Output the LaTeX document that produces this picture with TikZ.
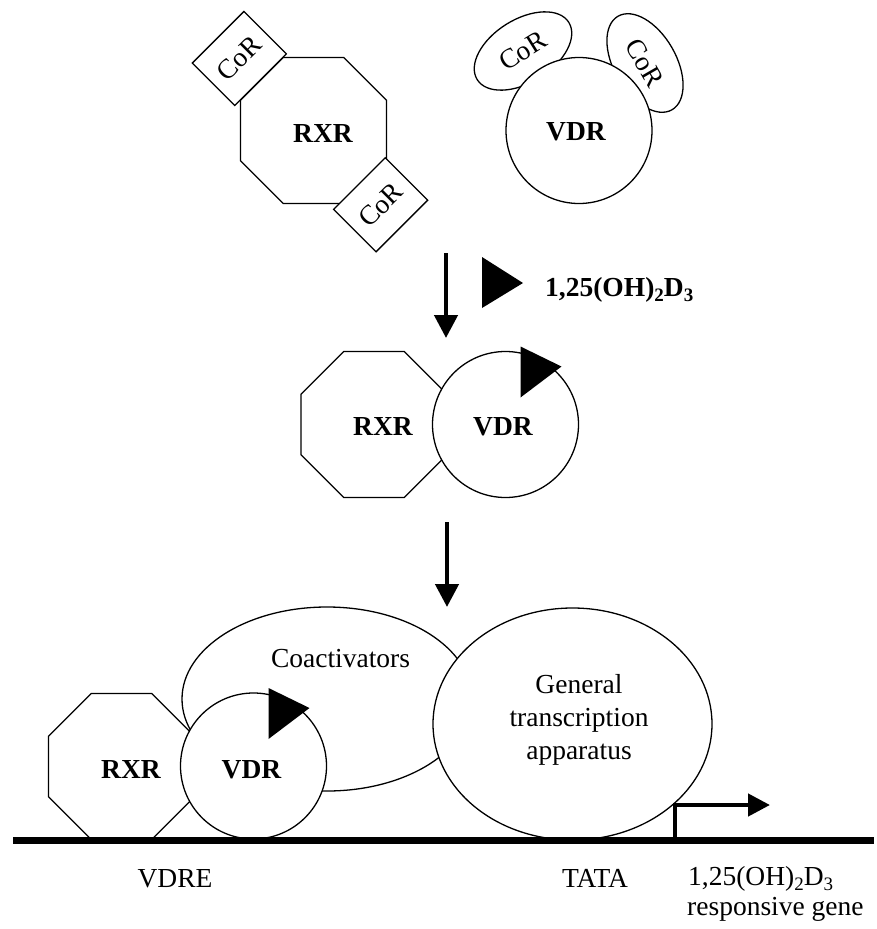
\documentclass[tikz,border=0pt]{standalone}
\usepackage{fontspec}
\setmainfont{Liberation Serif}
\usetikzlibrary{shapes.geometric,arrows.meta,calc}
\newcommand\mysub[1]{\raisebox{-5pt}{\fontsize{19}{19}\selectfont #1}}
\begin{document}
\begin{tikzpicture}[x=1pt,y=-1pt,
  every node/.style={font=\fontsize{27.5}{33}\selectfont, inner sep=0pt},
  outl/.style={draw=black, line width=1.3pt, fill=white},
  octo/.style={outl, regular polygon, regular polygon sides=8, minimum size=158pt},
  vdrc/.style={outl, circle, minimum size=146pt},
  corbox/.style={outl, rectangle, rotate=45, minimum width=73pt, minimum height=60pt},
  corell/.style={outl, ellipse, minimum width=108pt, minimum height=63pt},
  lbl/.style={font=\fontsize{27.5}{33}\selectfont\bfseries, anchor=base},
  txt/.style={anchor=base},
  bigarrow/.style={line width=4.5pt, -{Triangle[length=23pt,width=23pt]}},
  promo/.style={line width=4.5pt, -{Triangle[length=22pt,width=22pt]}},
  dna/.style={line width=7pt},
  ligand/.style={fill=black},
]
\useasboundingbox (0,0) rectangle (876,929);

% ---------- top: RXR with corepressors ----------
\node[octo] (rxr1) at (313.5,130.5) {};
\node[corbox] (cor1) at (239.3,58.5) {CoR};
\node[corbox] (cor2) at (380.6,204.8) {CoR};
\node[lbl] (rxr1t) at (323,142) {RXR};

% ---------- top: VDR with corepressors ----------
\node[corell, rotate=32] (cor3) at (523,51) {CoR};
\node[corell, rotate=-60, minimum height=62pt] (cor4) at (645,63) {CoR};
\node[vdrc] (vdr1) at (579,130.5) {};
\node[lbl] (vdr1t) at (576,140) {VDR};

% ---------- first arrow and ligand ----------
\coordinate (a1s) at (446,253);
\coordinate (a1e) at (446,338);
\draw[bigarrow] (a1s) -- (a1e);
\fill[ligand] (482,257) -- (482,308) -- (523,283) -- cycle;
\node[lbl, anchor=base west] (lig) at (545,296) {1,25(OH)\mysub{2}D\mysub{3}};

% ---------- middle: heterodimer ----------
\node[octo] (rxr2) at (374,424.5) {};
\node[vdrc] (vdr2) at (505.5,424.5) {};
\fill[ligand] ($(vdr2.center)+(15,-78)$) -- ($(vdr2.center)+(15,-27)$) -- ($(vdr2.center)+(56,-58)$) -- cycle;
\node[lbl] (rxr2t) at (383,435) {RXR};
\node[lbl] (vdr2t) at (503,435) {VDR};

% ---------- second arrow ----------
\coordinate (a2s) at (447,522);
\coordinate (a2e) at (447,607);
\draw[bigarrow] (a2s) -- (a2e);

% ---------- bottom: complex on DNA ----------
\node[outl, ellipse, minimum width=290pt, minimum height=184pt] (coact) at (327,699) {};
\node[txt] (coactt) at (340.5,667) {Coactivators};
\node[octo] (rxr3) at (121.5,766.5) {};
\node[vdrc] (vdr3) at (253.5,766) {};
\fill[ligand] ($(vdr3.center)+(15,-78)$) -- ($(vdr3.center)+(15,-27)$) -- ($(vdr3.center)+(56,-58)$) -- cycle;
\node[lbl] (rxr3t) at (131,778) {RXR};
\node[lbl] (vdr3t) at (251.5,778) {VDR};
\node[outl, ellipse, minimum width=279pt, minimum height=232pt] (gta) at (572.5,724) {};
\node[align=center] (gtat) at (579,719.6) {General\\transcription\\apparatus};

% DNA and transcription start
\coordinate (dnaL) at (13,840.5);
\coordinate (dnaR) at (874,840.5);
\draw[dna] (dnaL) -- (dnaR);
\coordinate (tss) at (675,840);
\coordinate (tssend) at (770,805);
\draw[promo] (tss) |- (tssend);

% labels under DNA
\node[txt] (vdre) at (175,887) {VDRE};
\node[txt] (tata) at (595,887) {TATA};
\node[txt, anchor=base west] (gene1) at (688,885) {1,25(OH)\mysub{2}D\mysub{3}};
\node[txt, anchor=base west] (gene2) at (687,915) {responsive gene};
\end{tikzpicture}
\end{document}
